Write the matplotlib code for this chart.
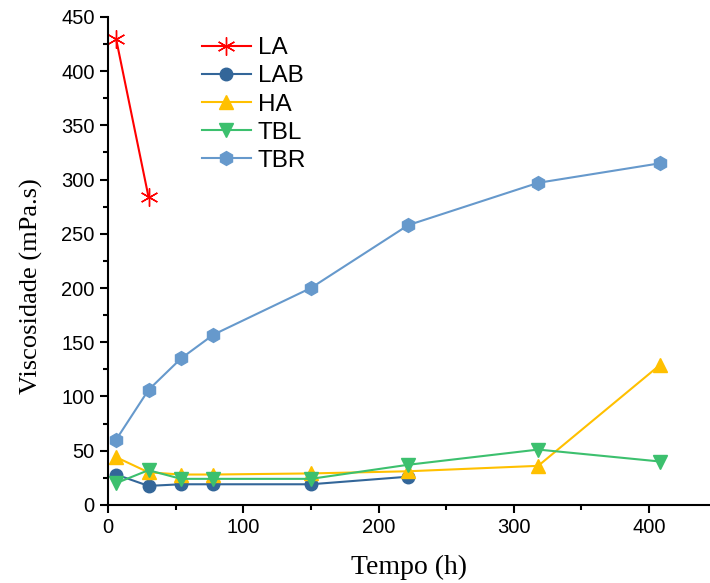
import matplotlib.pyplot as plt
from matplotlib.ticker import MultipleLocator

# tempo (h) e viscosidade (mPa.s) de cada amostra
t_la = [6, 30]
v_la = [430, 284]

t_lab = [6, 30, 54, 78, 150, 222]
v_lab = [28, 17.5, 19, 19, 19, 26]

t_ha = [6, 30, 54, 78, 150, 222, 318, 408]
v_ha = [44, 30, 28, 28, 29, 31, 36, 129]

t_tbl = [6, 30, 54, 78, 150, 222, 318, 408]
v_tbl = [20, 32, 24, 24, 24, 37, 51, 40]

t_tbr = [6, 30, 54, 78, 150, 222, 318, 408]
v_tbr = [60, 106, 135, 157, 200, 258, 297, 315]

fig = plt.figure(figsize=(7.1, 5.83), dpi=100)
ax = fig.add_axes([0.152, 0.134, 0.848, 0.837])

ax.plot(t_la, v_la, color='#FF0000', marker=(6, 2, 0), markersize=13, mew=1, lw=1.5, label='LA')
ax.plot(t_lab, v_lab, color='#336699', marker='o', markersize=9, lw=1.5, label='LAB')
ax.plot(t_ha, v_ha, color='#FFC000', marker='^', markersize=10, lw=1.5, label='HA')
ax.plot(t_tbl, v_tbl, color='#3CC06E', marker='v', markersize=10, lw=1.5, label='TBL')
ax.plot(t_tbr, v_tbr, color='#6699CC', marker='h', markersize=10, lw=1.5, label='TBR')

ax.set_xlim(0, 445)
ax.set_ylim(0, 450)
ax.xaxis.set_major_locator(MultipleLocator(100))
ax.xaxis.set_minor_locator(MultipleLocator(50))
ax.yaxis.set_major_locator(MultipleLocator(50))
ax.yaxis.set_minor_locator(MultipleLocator(25))

for s in ['top', 'right']:
    ax.spines[s].set_visible(False)
for s in ['left', 'bottom']:
    ax.spines[s].set_linewidth(1.5)

ax.tick_params(which='major', direction='out', length=6, width=1.5, labelsize=14.5)
ax.tick_params(which='minor', direction='out', length=3.5, width=1.5)
for lbl in ax.get_xticklabels() + ax.get_yticklabels():
    lbl.set_family('Liberation Sans')

ax.set_xlabel('Tempo (h)', family='Liberation Serif', fontsize=20)
ax.set_ylabel('Viscosidade (mPa.s)', family='Liberation Serif', fontsize=19)
ax.xaxis.set_label_coords(0.5, -0.103)
ax.yaxis.set_label_coords(-0.107, 0.449)

leg = ax.legend(loc='upper left', bbox_to_anchor=(0.12, 1.003), frameon=False,
                prop={'family': 'Liberation Sans', 'size': 17.5}, handlelength=2.0,
                labelspacing=0.25, handletextpad=0.3)

fig.savefig('out.png', dpi=100)
